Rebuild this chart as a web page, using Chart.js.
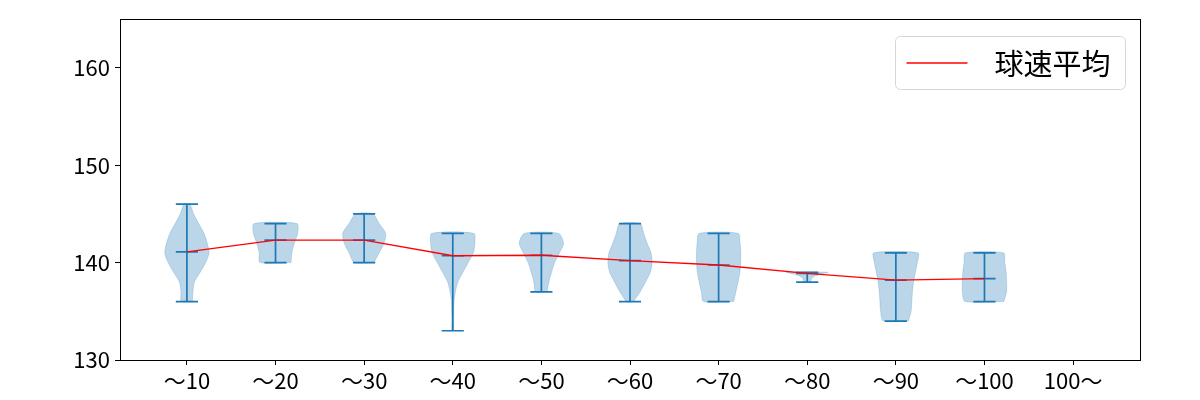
<!DOCTYPE html>
<html>
<head>
<meta charset="utf-8">
<script src="https://cdn.jsdelivr.net/npm/chart.js@4"></script>
<style>
html, body { margin: 0; padding: 0; background: #fff; }
</style>
</head>
<body>
<canvas id="myChart" width="1200" height="400"></canvas>
<script>
var categories = ["〜10", "〜20", "〜30", "〜40", "〜50", "〜60", "〜70", "〜80", "〜90", "〜100", "100〜"];
var meanSpeed = [141.1, 142.3, 142.3, 140.7, 140.75, 140.2, 139.75, 138.9, 138.2, 138.35, null];
var minSpeed = [136, 140, 140, 133, 137, 136, 136, 138, 134, 136, null];
var maxSpeed = [146, 144, 145, 143, 143, 144, 143, 139, 141, 141, null];
// relative violin width, evenly spaced from min (first) to max (last)
var violinWidths = [
    [0.25, 0.27, 0.34, 0.6, 0.85, 1.0, 0.92, 0.77, 0.53, 0.3, 0.13],
    [0.7, 0.74, 0.85, 1.0, 0.97],
    [0.45, 0.68, 0.9, 0.97, 0.68, 0.38],
    [0.04, 0.04, 0.05, 0.06, 0.12, 0.23, 0.46, 0.7, 0.93, 1.0, 0.95],
    [0.26, 0.34, 0.46, 0.6, 0.82, 1.0, 0.77],
    [0.15, 0.46, 0.7, 0.92, 1.0, 0.95, 0.77, 0.62, 0.46],
    [0.68, 0.78, 0.88, 0.96, 1.0, 1.0, 0.97, 0.88],
    [0.15, 0.18, 0.25, 0.5, 0.95],
    [0.57, 0.69, 0.72, 0.75, 0.8, 0.88, 0.97, 1.0],
    [0.88, 1.0, 1.0, 0.98, 0.92, 0.86],
    []
];
var yTicks = [130, 140, 150, 160];
var legendLabel = "球速平均";

var blue = '#1f77b4';
var fontFamily = '"Noto Sans CJK JP", sans-serif';

var datasets = [];

// mean line
var meanPts = [];
for (var i = 0; i < categories.length; i++) {
    if (meanSpeed[i] !== null) meanPts.push({x: i + 1, y: meanSpeed[i]});
}
datasets.push({
    label: legendLabel,
    data: meanPts,
    showLine: true,
    borderColor: 'red',
    borderWidth: 1.3,
    pointRadius: 0,
    order: 0
});

// whiskers: vertical line, caps at min / max / mean
var whisker = [];
function seg(x1, y1, x2, y2) {
    whisker.push({x: x1, y: y1}, {x: x2, y: y2}, {x: x2, y: null});
}
for (var i = 0; i < categories.length; i++) {
    if (minSpeed[i] === null) continue;
    var x0 = i + 1;
    seg(x0, minSpeed[i], x0, maxSpeed[i]);
    seg(x0 - 0.125, minSpeed[i], x0 + 0.125, minSpeed[i]);
    seg(x0 - 0.125, maxSpeed[i], x0 + 0.125, maxSpeed[i]);
    seg(x0 - 0.125, meanSpeed[i], x0 + 0.125, meanSpeed[i]);
}
datasets.push({
    label: 'whisker',
    data: whisker,
    showLine: true,
    spanGaps: false,
    borderColor: blue,
    borderWidth: 1.7,
    pointRadius: 0,
    order: 1
});

// violin bodies
for (var i = 0; i < categories.length; i++) {
    var w = violinWidths[i];
    if (!w.length) continue;
    var x0 = i + 1;
    var n = w.length;
    var step = (maxSpeed[i] - minSpeed[i]) / (n - 1);
    var pts = [];
    for (var k = 0; k < n; k++) pts.push({x: x0 + w[k] * 0.25, y: minSpeed[i] + k * step});
    for (var k = n - 1; k >= 0; k--) pts.push({x: x0 - w[k] * 0.25, y: minSpeed[i] + k * step});
    pts.push(pts[0]);
    datasets.push({
        label: 'violin' + i,
        data: pts,
        showLine: true,
        fill: 'shape',
        backgroundColor: 'rgba(31,119,180,0.3)',
        borderColor: 'rgba(31,119,180,0.2)',
        borderWidth: 1,
        pointRadius: 0,
        tension: 0.25,
        order: 2
    });
}

var frame = {
    id: 'frame',
    afterDraw: function(chart) {
        var ctx = chart.ctx, a = chart.chartArea;
        ctx.save();
        ctx.strokeStyle = '#000';
        ctx.lineWidth = 1;
        ctx.strokeRect(Math.floor(a.left) + 0.5, Math.floor(a.top) + 0.5,
            Math.round(a.right - a.left), Math.round(a.bottom - a.top));
        ctx.restore();
    }
};

var legendBox = {
    id: 'legendBox',
    afterDraw: function(chart) {
        var ctx = chart.ctx, a = chart.chartArea;
        ctx.save();
        ctx.font = '29px ' + fontFamily;
        var tw = ctx.measureText(legendLabel).width;
        var w = 11 + 61 + 27 + tw + 15;
        var h = 53;
        var x = Math.round(a.right - 15 - w) + 0.5;
        var y = Math.round(a.top + 17) + 0.5;
        ctx.beginPath();
        ctx.roundRect(x, y, w, h, 5);
        ctx.fillStyle = 'rgba(255,255,255,0.8)';
        ctx.fill();
        ctx.strokeStyle = '#d6d6d6';
        ctx.lineWidth = 1;
        ctx.stroke();
        ctx.beginPath();
        ctx.moveTo(x + 11, y + h / 2);
        ctx.lineTo(x + 72, y + h / 2);
        ctx.strokeStyle = 'red';
        ctx.lineWidth = 1.5;
        ctx.stroke();
        ctx.fillStyle = '#000';
        ctx.textBaseline = 'middle';
        ctx.fillText(legendLabel, x + 99, y + h / 2 + 1);
        ctx.restore();
    }
};

Chart.defaults.font.family = fontFamily;
Chart.defaults.font.size = 22;
Chart.defaults.color = '#000';

var ctx = document.getElementById("myChart");
var myChart = new Chart(ctx, {
    type: 'scatter',
    data: { datasets: datasets },
    options: {
        responsive: false,
        animation: false,
        layout: { padding: { top: 19, right: 60, left: 0, bottom: 0 } },
        plugins: {
            legend: { display: false },
            tooltip: { enabled: false }
        },
        scales: {
            x: {
                type: 'linear',
                min: 0.245,
                max: 11.755,
                afterBuildTicks: function(scale) {
                    scale.ticks = categories.map(function(c, i) { return {value: i + 1}; });
                },
                afterFit: function(scale) { scale.height = 40; },
                ticks: {
                    padding: 2,
                    maxRotation: 0,
                    autoSkip: false,
                    callback: function(v, idx) { return categories[idx]; }
                },
                grid: { display: true, drawOnChartArea: false, drawTicks: true, tickLength: 5, color: '#000' },
                border: { display: true, color: '#000' }
            },
            y: {
                min: 130,
                max: 165,
                afterBuildTicks: function(scale) {
                    scale.ticks = yTicks.map(function(v) { return {value: v}; });
                },
                afterFit: function(scale) { scale.width = 120; },
                ticks: { padding: 5 },
                grid: { display: true, drawOnChartArea: false, drawTicks: true, tickLength: 5, color: '#000' },
                border: { display: true, color: '#000' }
            }
        }
    },
    plugins: [frame, legendBox]
});
</script>
</body>
</html>
